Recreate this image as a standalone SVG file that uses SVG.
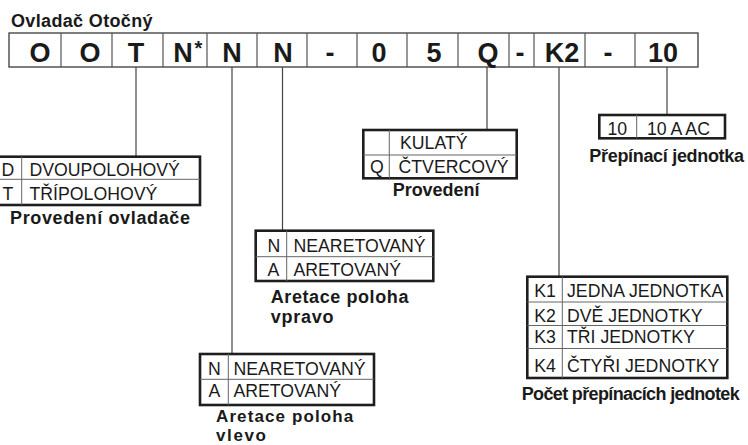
<svg xmlns="http://www.w3.org/2000/svg" width="748" height="445" viewBox="0 0 748 445">
<style>
  .cell { fill: #fff; stroke: #3a3a3a; stroke-width: 1.3; }
  .div { stroke: #555; stroke-width: 1.2; }
  .code { font-family: "Liberation Sans", Arial, sans-serif; font-weight: bold; font-size: 27px; text-anchor: middle; fill: #1a1a1a; }
  .star { font-family: "Liberation Sans", Arial, sans-serif; font-weight: bold; font-size: 20px; fill: #1a1a1a; }
  .tbl { fill: #fff; stroke: #1e1e1e; stroke-width: 2.6; }
  .in { stroke: #666; stroke-width: 1; }
  .t { font-family: "Liberation Sans", Arial, sans-serif; font-size: 17.7px; fill: #1a1a1a; }
  .k { font-family: "Liberation Sans", Arial, sans-serif; font-size: 17.7px; fill: #1a1a1a; text-anchor: middle; }
  .lbl { font-family: "Liberation Sans", Arial, sans-serif; font-weight: bold; font-size: 18px; fill: #1a1a1a; }
  .lbl2 { font-family: "Liberation Sans", Arial, sans-serif; font-weight: bold; font-size: 17px; fill: #1a1a1a; }
  .conn { stroke: #444; stroke-width: 1.2; fill: none; }
</style>
<rect width="748" height="445" fill="#fff"/>

<g id="title">
  <text class="lbl" x="11" y="26.7" textLength="141.5">Ovladač Otočný</text>
</g>

<g id="code-row">
  <rect class="cell" x="9" y="33" width="689" height="34"/>
  <path class="div" d="M61 33V67M112 33V67M163 33V67M207 33V67M257 33V67M307 33V67M357 33V67M407 33V67M458 33V67M509 33V67M534 33V67M585 33V67M635 33V67"/>
  <text class="code" x="40" y="62">O</text>
  <text class="code" x="90" y="62">O</text>
  <text class="code" x="136" y="62">T</text>
  <text class="code" x="183" y="62">N</text>
  <text class="star" x="194.5" y="55">*</text>
  <text class="code" x="232" y="62">N</text>
  <text class="code" x="283" y="62">N</text>
  <text class="code" x="330" y="62">-</text>
  <text class="code" x="379" y="62">0</text>
  <text class="code" x="434" y="62">5</text>
  <text class="code" x="488" y="62">Q</text>
  <text class="code" x="520" y="62">-</text>
  <text class="code" x="562" y="62">K2</text>
  <text class="code" x="608" y="62">-</text>
  <text class="code" x="663" y="62">10</text>
</g>

<g id="connectors">
  <line class="conn" x1="136" y1="67" x2="136" y2="156.7"/>
  <line class="conn" x1="232" y1="67" x2="232" y2="354"/>
  <line class="conn" x1="282.5" y1="67" x2="282.5" y2="230.7"/>
  <line class="conn" x1="487" y1="67" x2="487" y2="130"/>
  <line class="conn" x1="559" y1="67" x2="559" y2="276.7"/>
  <line class="conn" x1="667" y1="67" x2="667" y2="115"/>
</g>

<g id="provedeni-ovladace">
  <rect class="tbl" x="-1.5" y="156.7" width="201.5" height="48.3"/>
  <line class="in" x1="0" y1="179.3" x2="200" y2="179.3"/>
  <line class="in" x1="21.7" y1="156.7" x2="21.7" y2="205"/>
  <text class="k" x="8" y="176">D</text>
  <text class="t" x="29.5" y="176">DVOUPOLOHOVÝ</text>
  <text class="k" x="8" y="200">T</text>
  <text class="t" x="29.5" y="200">TŘÍPOLOHOVÝ</text>
  <text class="lbl" x="10" y="224" textLength="180">Provedení ovladače</text>
</g>

<g id="aretace-vpravo">
  <rect class="tbl" x="255.7" y="230.7" width="177.6" height="50.3"/>
  <line class="in" x1="255.7" y1="256.7" x2="433.3" y2="256.7"/>
  <line class="in" x1="286.7" y1="230.7" x2="286.7" y2="281"/>
  <text class="k" x="274" y="251.7">N</text>
  <text class="t" x="293.5" y="251.7">NEARETOVANÝ</text>
  <text class="k" x="273.5" y="275.7">A</text>
  <text class="t" x="293.5" y="275.7">ARETOVANÝ</text>
  <text class="lbl" x="270.7" y="302.7" textLength="137.7">Aretace poloha</text>
  <text class="lbl" x="270.7" y="322.5" textLength="62.7">vpravo</text>
</g>

<g id="aretace-vlevo">
  <rect class="tbl" x="200" y="354" width="174" height="51"/>
  <line class="in" x1="200" y1="379.3" x2="374" y2="379.3"/>
  <line class="in" x1="228.3" y1="354" x2="228.3" y2="405"/>
  <text class="k" x="214.5" y="375">N</text>
  <text class="t" x="233.5" y="375">NEARETOVANÝ</text>
  <text class="k" x="214.5" y="396.7">A</text>
  <text class="t" x="233.5" y="396.7">ARETOVANÝ</text>
  <text class="lbl2" x="216" y="422" textLength="137.3">Aretace poloha</text>
  <text class="lbl2" x="216" y="441" textLength="50">vlevo</text>
</g>

<g id="provedeni">
  <rect class="tbl" x="363.3" y="130" width="153.4" height="48.3"/>
  <line class="in" x1="363.3" y1="155" x2="516.7" y2="155"/>
  <line class="in" x1="389.3" y1="130" x2="389.3" y2="178.3"/>
  <text class="t" x="400" y="149">KULATÝ</text>
  <text class="k" x="377" y="173">Q</text>
  <text class="t" x="398.5" y="173">ČTVERCOVÝ</text>
  <text class="lbl" x="392.7" y="196" textLength="86.7">Provedení</text>
</g>

<g id="prepinaci-jednotka">
  <rect class="tbl" x="599.3" y="115" width="125.7" height="23.3"/>
  <line class="in" x1="636.7" y1="115" x2="636.7" y2="138.3"/>
  <text class="k" x="617.3" y="135">10</text>
  <text class="t" x="647" y="135">10 A AC</text>
  <text class="lbl" x="589.3" y="161.7" textLength="154.7">Přepínací jednotka</text>
</g>

<g id="pocet-jednotek">
  <rect class="tbl" x="527.3" y="276.7" width="200" height="101.3"/>
  <line class="in" x1="527.3" y1="302" x2="727.3" y2="302"/>
  <line class="in" x1="527.3" y1="325.5" x2="727.3" y2="325.5"/>
  <line class="in" x1="527.3" y1="348.5" x2="727.3" y2="348.5"/>
  <line class="in" x1="562.3" y1="276.7" x2="562.3" y2="378"/>
  <text class="k" x="545" y="296.7">K1</text>
  <text class="t" x="567" y="296.7">JEDNA JEDNOTKA</text>
  <text class="k" x="545" y="321.7">K2</text>
  <text class="t" x="567" y="321.7">DVĚ JEDNOTKY</text>
  <text class="k" x="545" y="343.3">K3</text>
  <text class="t" x="567" y="343.3">TŘI JEDNOTKY</text>
  <text class="k" x="545" y="371.7">K4</text>
  <text class="t" x="567" y="371.7">ČTYŘI JEDNOTKY</text>
  <text class="lbl" x="521.7" y="400" textLength="218">Počet přepínacích jednotek</text>
</g>
</svg>
